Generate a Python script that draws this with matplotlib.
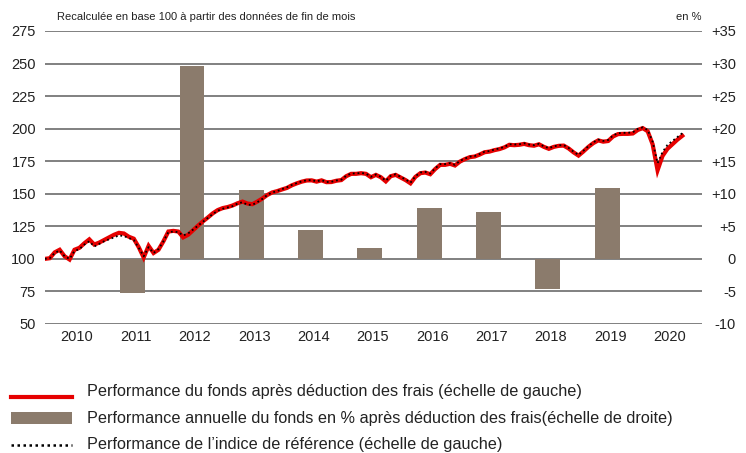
import numpy as np
import pandas as pd
import matplotlib
matplotlib.use("Agg")
import matplotlib.pyplot as plt
from matplotlib.lines import Line2D
from matplotlib.patches import Rectangle

plt.rcParams['font.family'] = ['Liberation Sans', 'DejaVu Sans']

# === données ===
# fin de mois, déc. 2009 -> sept. 2020
dates = pd.date_range("2009-12-31", periods=130, freq="ME")

fonds = [100, 100.5, 105, 107, 102, 99.5, 107, 108.5, 112, 115, 111, 112.5, 114.5, 116.5, 118.5,
         120, 119.5, 117, 115.5, 109, 101, 110, 104.5, 107, 113.5, 121, 121.5, 121, 116.5, 118.5,
         122, 125.5, 128.8, 131.8, 135, 137.5, 139, 139.8, 141, 142.7, 144, 142.5, 142, 144, 146.3,
         149, 151, 152, 153.3, 154.5, 156.5, 158, 159.3, 160.2, 160.3, 159.3, 160.3, 158.9, 159, 160,
         160.5, 163.5, 165.3, 165.3, 165.8, 165.3, 162.7, 164.5, 162.7, 159.5, 163.5, 164.5, 162.5, 160.5, 158,
         163, 165.8, 166.3, 165, 169, 172.2, 172.2, 173, 171.7, 174.7, 176.6, 178.1, 178.6, 180.1, 181.9,
         182.4, 183.5, 184.3, 185.6, 187.6, 187.3, 187.6, 188.3, 187.3, 186.9, 188, 186, 184.5, 186, 186.8,
         187, 184.8, 181.8, 179.3, 182.5, 186, 188.9, 191, 190, 190.5, 194, 195.8, 196, 196, 196.3,
         199, 200.4, 198, 188, 168, 179, 184.5, 188, 191.5, 194.5]

indice = [100, 100.5, 104.5, 106.5, 102, 100, 106, 107.5, 111, 113.5, 109.5, 111.5, 113.5, 115, 116.5,
          118, 117.5, 116, 114.5, 108.5, 102, 109, 104.5, 107.5, 113.5, 120.5, 121, 120.5, 118, 119.5,
          122.5, 125.5, 128.5, 131.5, 134.5, 137, 138.5, 139.5, 140.5, 142.5, 143.5, 141.5, 141.5, 143.5, 146,
          149, 151, 152, 153.5, 155, 156.8, 158.2, 159.5, 160.4, 160.5, 159.5, 160.5, 159, 159.2, 160.2,
          160.8, 163.8, 165.6, 165.6, 166, 165.5, 163, 164.8, 163, 160, 163.8, 165, 163, 161, 158.5,
          163.5, 166.3, 166.8, 165.5, 169.5, 172.8, 172.8, 173.5, 172.2, 175.2, 177, 178.5, 179, 180.5, 182.3,
          182.8, 184, 184.8, 186, 188, 187.8, 188, 188.8, 187.8, 187.3, 188.4, 186.4, 185, 186.4, 187.2,
          187.4, 185.2, 182.3, 179.8, 183, 186.5, 189.5, 191.6, 190.6, 191.3, 194.8, 196.5, 196.8, 196.8, 197.2,
          199.8, 201, 199, 190, 173.5, 182, 187.5, 190.5, 193.5, 196.5]

annees_barres = [2011, 2012, 2013, 2014, 2015, 2016, 2017, 2018, 2019]
perf_annuelle = [-5.2, 29.6, 10.6, 4.5, 1.7, 7.8, 7.2, -4.6, 10.9]

annees_labels = list(range(2010, 2021))
gauche_ticks = list(range(50, 276, 25))
droite_ticks = list(range(-10, 36, 5))

ROUGE = "#e60000"
TAUPE = "#8b7b6c"
GRILLE = "#5e5e5e"

x = dates.year + (dates.month - 0.75) / 12.0

# === graphique ===
fig = plt.figure(figsize=(7.46, 4.53), dpi=100)
ax2 = fig.add_axes([0.0603, 0.2848, 0.8807, 0.6468])
ax = ax2.twinx()
ax.yaxis.tick_left()
ax2.yaxis.tick_right()
ax.set_zorder(ax2.get_zorder() + 1)
ax.patch.set_visible(False)

# barres (échelle de droite)
for yv in droite_ticks:
    ax2.axhline(yv, color=GRILLE, lw=1.1, zorder=0)
ax2.bar(np.array(annees_barres) + 0.42, perf_annuelle, width=0.42, color=TAUPE, zorder=2)
ax2.set_ylim(-10, 35)
ax2.set_yticks(droite_ticks)
ax2.set_yticklabels([("+%d" % v if v > 0 else "%d" % v) for v in droite_ticks])
ax2.tick_params(axis='y', length=0, pad=24.5, labelsize=10.5, colors="#222222")
for lab in ax2.get_yticklabels():
    lab.set_horizontalalignment('right')

# lignes (échelle de gauche)
ax.plot(x, fonds, color=ROUGE, lw=3.0, solid_joinstyle='miter', zorder=3)
ax.plot(x, indice, color="black", lw=1.3, linestyle=(0, (1, 1.6)), zorder=4)
ax.set_ylim(50, 275)
ax.set_yticks(gauche_ticks)
ax.tick_params(axis='y', length=0, pad=6.5, labelsize=10.5, colors="#222222")

ax2.set_xlim(2009.94, 2021.02)
ax2.set_xticks(np.array(annees_labels) + 0.47)
ax2.set_xticklabels([str(a) for a in annees_labels])
ax2.tick_params(axis='x', length=0, pad=4, labelsize=10.5, colors="#222222")
ax.set_xlim(2009.94, 2021.02)

for a in (ax, ax2):
    for s in a.spines.values():
        s.set_visible(False)

fig.text(57 / 746, 1 - 17 / 453, "Recalculée en base 100 à partir des données de fin de mois",
         fontsize=8, va='center', ha='left', color="#222222")
fig.text(702 / 746, 1 - 17 / 453, "en %", fontsize=8, va='center', ha='right', color="#222222")

# légende
W, H = 746.0, 453.0
fig.add_artist(Line2D([11 / W, 72 / W], [1 - 396.5 / H] * 2, color=ROUGE, lw=3.0))
fig.add_artist(Rectangle((11 / W, 1 - 424 / H), 61 / W, 12 / H, color=TAUPE, lw=0))
fig.add_artist(Line2D([11 / W, 72 / W], [1 - 445 / H] * 2, color="black", lw=1.8,
                      linestyle=(0, (1, 1.4))))
legende = ["Performance du fonds après déduction des frais (échelle de gauche)",
           "Performance annuelle du fonds en % après déduction des frais(échelle de droite)",
           "Performance de l\u2019indice de référence (échelle de gauche)"]
for yy, txt in zip([391.5, 418.5, 445], legende):
    fig.text(87 / W, 1 - yy / H, txt, fontsize=11.7, va='center', ha='left', color="#222222")

fig.savefig("out.png", dpi=100)
